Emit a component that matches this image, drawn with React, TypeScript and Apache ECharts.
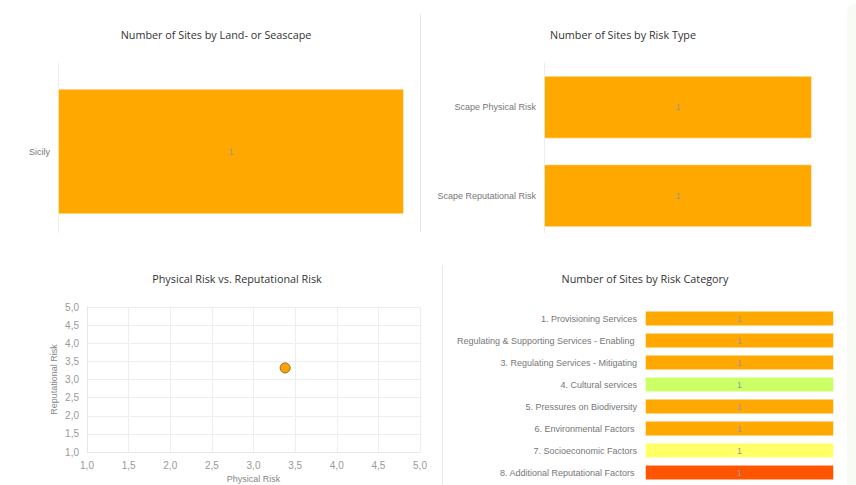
import React, { useEffect, useRef } from "react";
import * as echarts from "echarts";

const landscapeCats = ["Sicily"];
const landscapeVals = [1];

const riskTypeCats = ["Scape Physical Risk", "Scape Reputational Risk"];
const riskTypeVals = [1, 1];

const scatterPoints: [number, number][] = [[3.38, 3.32]];
const scatterTicks = [1, 1.5, 2, 2.5, 3, 3.5, 4, 4.5, 5];

const categoryCats = [
  "1. Provisioning Services",
  "Regulating & Supporting Services - Enabling ",
  "3. Regulating Services - Mitigating",
  "4. Cultural services",
  "5. Pressures on Biodiversity",
  "6. Environmental Factors ",
  "7. Socioeconomic Factors",
  "8. Additional Reputational Factors ",
];
const categoryVals = [1, 1, 1, 1, 1, 1, 1, 1];
const categoryColors = ["#ffa800", "#ffa800", "#ffa800", "#ccff66", "#ffa800", "#ffa800", "#ffff66", "#ff5500"];

const ORANGE = "#ffa800";
const LABEL_FONT = "'Liberation Sans', Arial, sans-serif";
const TITLE_FONT = "'Open Sans', sans-serif";

export default function App() {
  const ref = useRef<HTMLDivElement>(null);
  useEffect(() => {
    if (!ref.current) return;
    const chart = echarts.init(ref.current, null, { renderer: "svg" });
    const titleStyle = { fontFamily: TITLE_FONT, fontSize: 10.8, fontWeight: "normal" as const, color: "#333" };
    const catLabel = { fontFamily: LABEL_FONT, fontSize: 9, color: "#777", margin: 8 };
    const barLabel = { show: true, position: "inside" as const, color: "#999", fontSize: 9, fontFamily: LABEL_FONT };
    const fmt = (v: number) => v.toFixed(1).replace(".", ",");

    chart.setOption({
      animation: false,
      backgroundColor: "#ffffff",
      title: [
        { text: "Number of Sites by Land- or Seascape", left: 211, top: 24, textAlign: "center", textStyle: titleStyle },
        { text: "Number of Sites by Risk Type", left: 618, top: 24, textAlign: "center", textStyle: titleStyle },
        { text: "Physical Risk vs. Reputational Risk", left: 232, top: 268, textAlign: "center", textStyle: titleStyle },
        { text: "Number of Sites by Risk Category", left: 640, top: 268, textAlign: "center", textStyle: titleStyle },
      ],
      grid: [
        { left: 58, top: 63, width: 346, height: 177 },
        { left: 544, top: 63, width: 268, height: 177 },
        { left: 87, top: 307, width: 333, height: 145 },
        { left: 645, top: 307.5, width: 189, height: 176 },
      ],
      xAxis: [
        { gridIndex: 0, type: "value", min: 0, max: 1, show: false },
        { gridIndex: 1, type: "value", min: 0, max: 1, show: false },
        {
          gridIndex: 2, type: "value", min: 1, max: 5, interval: 0.5,
          name: "Physical Risk", nameLocation: "middle", nameGap: 22,
          nameTextStyle: { fontFamily: LABEL_FONT, fontSize: 9, color: "#888" },
          axisLine: { show: true, lineStyle: { color: "#e6e6e6" } },
          axisTick: { show: false },
          splitLine: { lineStyle: { color: "#eeeeee" } },
          axisLabel: { formatter: fmt, fontFamily: LABEL_FONT, fontSize: 10, color: "#999", margin: 8 },
        },
        { gridIndex: 3, type: "value", min: 0, max: 1, show: false },
      ],
      yAxis: [
        {
          gridIndex: 0, type: "category", data: landscapeCats, inverse: true,
          axisLine: { show: true, lineStyle: { color: "#eeeeee" } }, axisTick: { show: false }, axisLabel: catLabel,
        },
        {
          gridIndex: 1, type: "category", data: riskTypeCats, inverse: true,
          axisLine: { show: true, lineStyle: { color: "#eeeeee" } }, axisTick: { show: false }, axisLabel: catLabel,
        },
        {
          gridIndex: 2, type: "value", min: 1, max: 5, interval: 0.5,
          name: "Reputational Risk", nameLocation: "middle", nameGap: 29, nameRotate: 90,
          nameTextStyle: { fontFamily: LABEL_FONT, fontSize: 9, color: "#888" },
          axisLine: { show: true, lineStyle: { color: "#e6e6e6" } },
          axisTick: { show: false },
          splitLine: { lineStyle: { color: "#eeeeee" } },
          axisLabel: { formatter: fmt, fontFamily: LABEL_FONT, fontSize: 10, color: "#999", margin: 8 },
        },
        {
          gridIndex: 3, type: "category", data: categoryCats, inverse: true,
          axisLine: { show: false }, axisTick: { show: false }, axisLabel: catLabel,
        },
      ],
      series: [
        {
          type: "bar", xAxisIndex: 0, yAxisIndex: 0, data: landscapeVals, barWidth: "71%",
          itemStyle: { color: ORANGE, borderColor: "rgba(255,255,255,0.45)", borderWidth: 1 }, label: barLabel,
        },
        {
          type: "bar", xAxisIndex: 1, yAxisIndex: 1, data: riskTypeVals, barWidth: "71%",
          itemStyle: { color: ORANGE, borderColor: "rgba(255,255,255,0.45)", borderWidth: 1 }, label: barLabel,
        },
        {
          type: "scatter", xAxisIndex: 2, yAxisIndex: 2, data: scatterPoints, symbolSize: 10,
          itemStyle: { color: "#ffa200", borderColor: "#8a6d1c", borderWidth: 1, opacity: 1 },
        },
        {
          type: "bar", xAxisIndex: 3, yAxisIndex: 3, barWidth: "70%",
          data: categoryVals.map((v, i) => ({ value: v, itemStyle: { color: categoryColors[i] } })),
          itemStyle: { borderColor: "rgba(255,255,255,0.45)", borderWidth: 1 }, label: barLabel,
        },
      ],
      graphic: [
        { type: "rect", z: 100, shape: { x: 0, y: 233, width: 846, height: 30 }, style: { fill: "#ffffff" } },
        { type: "rect", z: 99, shape: { x: 847, y: 4, width: 9, height: 481, r: [8, 0, 0, 0] }, style: { fill: "#f8faf4" } },
        { type: "line", z: 101, shape: { x1: 420.5, y1: 14, x2: 420.5, y2: 232 }, style: { stroke: "#e8e8e8", lineWidth: 1 } },
        { type: "line", z: 101, shape: { x1: 442.5, y1: 265, x2: 442.5, y2: 485 }, style: { stroke: "#e8e8e8", lineWidth: 1 } },
      ],
    });
    return () => chart.dispose();
  }, []);
  return <div ref={ref} style={{ position: "fixed", left: 0, top: 0, width: 856, height: 485 }} />;
}
